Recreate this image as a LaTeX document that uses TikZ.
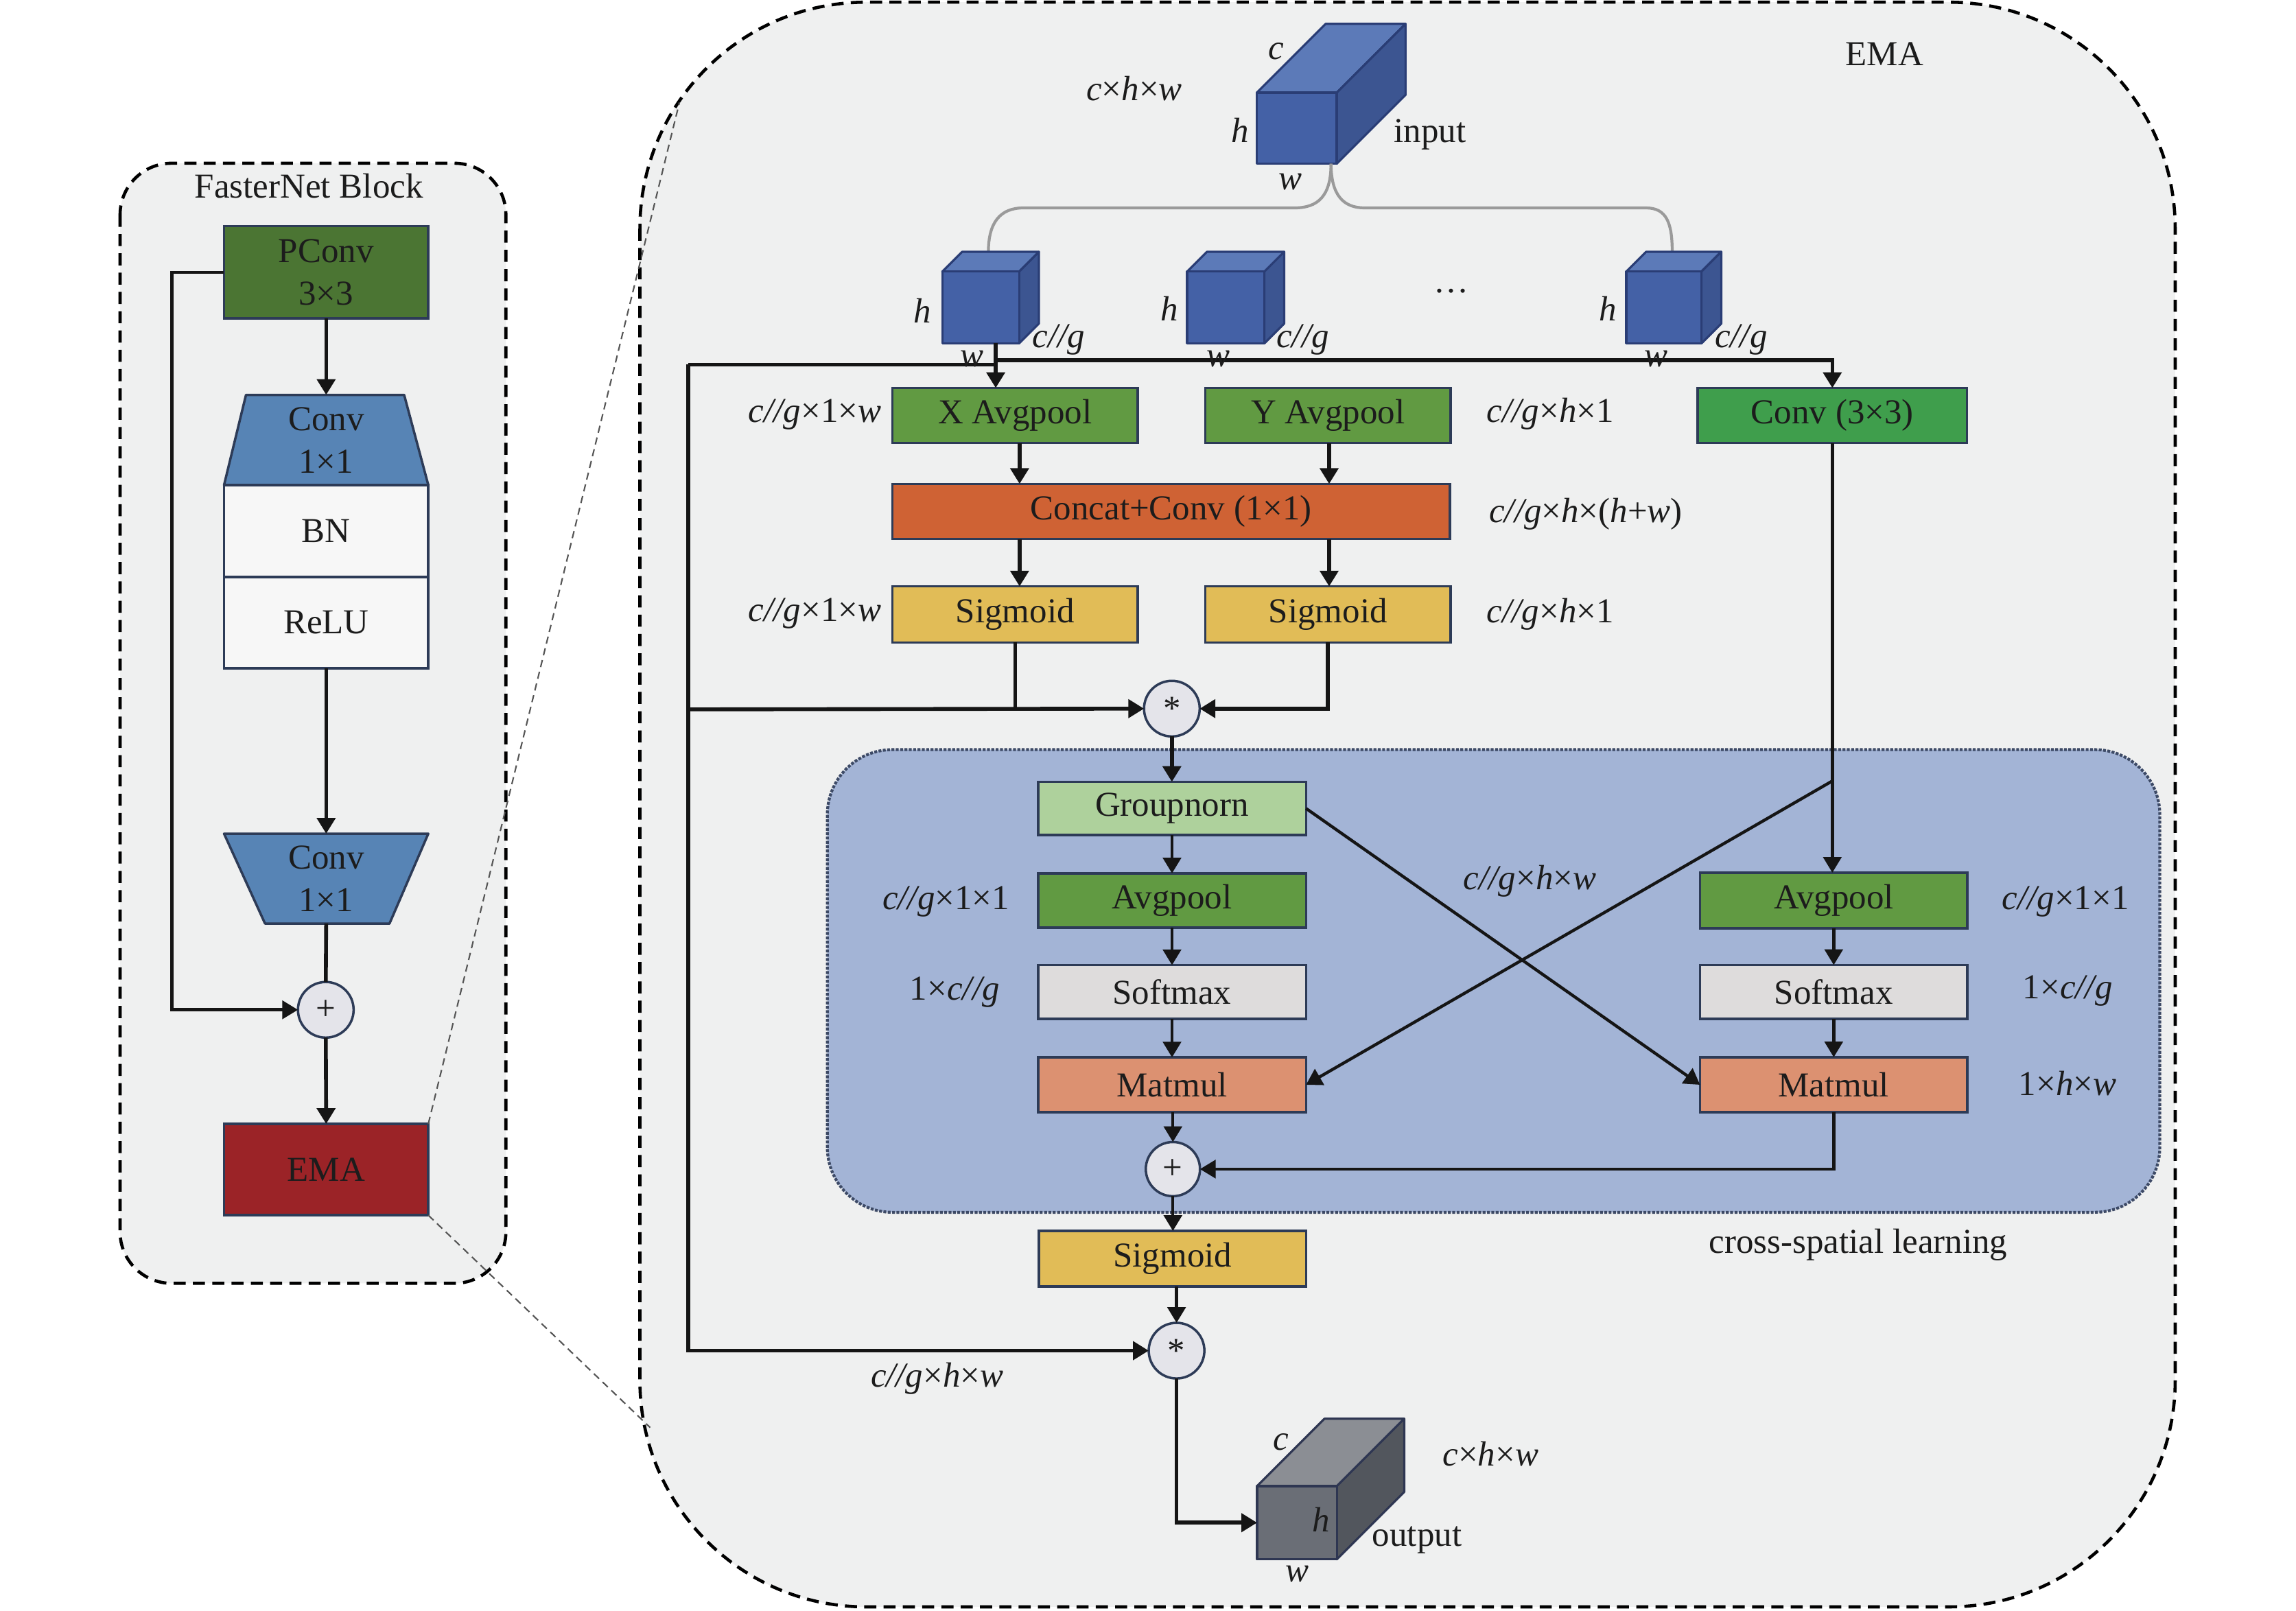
\documentclass[tikz,border=0pt]{standalone}
\usepackage{fontspec}
\setmainfont{Liberation Serif}
\usetikzlibrary{arrows.meta}

\definecolor{bg}{HTML}{EFF0F0}
\definecolor{txt}{HTML}{1C1C1C}
\definecolor{boxline}{HTML}{2D3B57}
\definecolor{pconvc}{HTML}{4B7533}
\definecolor{convblue}{HTML}{5784B5}
\definecolor{bnwhite}{HTML}{F7F7F7}
\definecolor{emared}{HTML}{9B2327}
\definecolor{opfill}{HTML}{E4E4EA}
\definecolor{xgreen}{HTML}{619A42}
\definecolor{cgreen}{HTML}{3F9E4C}
\definecolor{orangec}{HTML}{CF6234}
\definecolor{yellowc}{HTML}{E1BC57}
\definecolor{region}{HTML}{A3B4D6}
\definecolor{regionline}{HTML}{3D4A66}
\definecolor{gnorm}{HTML}{AED19C}
\definecolor{smgray}{HTML}{DEDCDC}
\definecolor{mmorange}{HTML}{DC9171}
\definecolor{lnc}{HTML}{151515}
\definecolor{cubeF}{HTML}{4461A6}
\definecolor{cubeT}{HTML}{5C7AB8}
\definecolor{cubeS}{HTML}{3C5591}
\definecolor{cubeE}{HTML}{2A3D75}
\definecolor{ocubeF}{HTML}{6A6E76}
\definecolor{ocubeT}{HTML}{8B8E94}
\definecolor{ocubeS}{HTML}{52565D}
\definecolor{ocubeE}{HTML}{2E3652}
\definecolor{branchc}{HTML}{9A9A9A}
\definecolor{zoomc}{HTML}{555555}

\def\U{0.021339cm}
\newcommand{\itx}[1]{\textit{#1}}
% x y w h d front top side edge
\newcommand{\drawcube}[9]{%
  \filldraw[fill=#7, draw=#9, line width=0.9pt, line join=round]
    (#1,#2) -- ({#1+#5},{#2-#5}) -- ({#1+#3+#5},{#2-#5}) -- ({#1+#3},#2) -- cycle;
  \filldraw[fill=#8, draw=#9, line width=0.9pt, line join=round]
    ({#1+#3},#2) -- ({#1+#3+#5},{#2-#5}) -- ({#1+#3+#5},{#2+#4-#5}) -- ({#1+#3},{#2+#4}) -- cycle;
  \filldraw[fill=#6, draw=#9, line width=0.9pt, line join=round]
    (#1,#2) rectangle ({#1+#3},{#2+#4});
}

\tikzset{
  every node/.append style={font=\fontsize{14.5}{17.6}\selectfont, text=txt},
  box/.style={rectangle, draw=boxline, line width=1pt, inner sep=0pt, outer sep=0pt, align=center},
  wS/.style={minimum width=167.5*\U},
  wL/.style={minimum width=183*\U},
  wF/.style={minimum width=139.5*\U},
  hB/.style={minimum height=37.5*\U},
  hF/.style={minimum height=62.5*\U},
  opc/.style={circle, draw=boxline, line width=1pt, fill=opfill, inner sep=0pt, outer sep=0pt, minimum size=38*\U},
  conn/.style={line width=1.6pt, draw=lnc},
  thinconn/.style={line width=1.25pt, draw=lnc},
  arr/.style={conn, -{Triangle[length=6.5pt,width=7.5pt]}},
  tarr/.style={thinconn, -{Triangle[length=6.5pt,width=7.5pt]}},
  container/.style={fill=bg, draw=black, line width=1.3pt, dash pattern=on 5pt off 3pt},
  zoomline/.style={draw=zoomc, line width=0.6pt, dash pattern=on 3pt off 2pt},
  branch/.style={draw=branchc, line width=1.2pt},
  dimlbl/.style={inner sep=0pt},
  cubebox/.style={inner sep=0pt, outer sep=0pt}
}

\begin{document}
\begin{tikzpicture}[x=0.021339cm, y=-0.021339cm]
\fill[white] (0,0) rectangle (1568,1100);
\useasboundingbox (0,0) rectangle (1568,1100);

% ---------- containers ----------
\draw[container, rounded corners=0.75cm] (82,111.5) rectangle (345.5,876.5);
\node (fntitle) at (211,127) {FasterNet Block};

\draw[container, rounded corners=3.3cm] (437,1.5) rectangle (1485.5,1097.5);
\node (ematitle) at (1287,37) {EMA};

% ---------- FasterNet block ----------
\node[box, wF, minimum height=63*\U, fill=pconvc] (pconv) at (222.75,186) {PConv\\3×3};
\filldraw[fill=convblue, draw=boxline, line width=1pt, line join=round]
  (168,269.7) -- (276,269.7) -- (292.5,331.3) -- (153,331.3) -- cycle;
\node[inner sep=0pt, outer sep=0pt, wF, minimum height=61.6*\U, align=center] (conv1) at (222.75,300.5) {Conv\\1×1};
\node[box, wF, hF, fill=bnwhite, minimum height=62.7*\U] (bn) at (222.75,362.65) {BN};
\node[box, wF, hF, fill=bnwhite] (relu) at (222.75,425.25) {ReLU};
\filldraw[fill=convblue, draw=boxline, line width=1pt, line join=round]
  (153,569.4) -- (292.5,569.4) -- (266,630.8) -- (181,630.8) -- cycle;
\node[inner sep=0pt, outer sep=0pt, wF, minimum height=61.4*\U, align=center] (conv2) at (222.75,600.1) {Conv\\1×1};
\node[opc] (addF) at (222.5,689.7) {+};
\node[box, wF, minimum height=62.4*\U, fill=emared] (ema) at (222.75,798.8) {EMA};
\coordinate (skipc) at (117.5,186);

\draw[arr] (pconv.south) -- (conv1.north);
\draw[arr] (relu.south) -- (conv2.north);
\draw[conn] (conv2.south) -- (addF.north);
\draw[arr] (addF.south) -- (ema.north);
\draw[arr, line width=1.3pt] (pconv.west) -- (skipc) |- (addF.west);

% ---------- zoom lines ----------
\coordinate (zt) at (464,70);
\coordinate (zb) at (444,975);
\draw[zoomline] (ema.north east) -- (zt);
\draw[zoomline] (ema.south east) -- (zb);

% ---------- cross-spatial region ----------
\draw[fill=region, draw=regionline, line width=1.2pt, dash pattern=on 1.2pt off 0.6pt, rounded corners=0.95cm]
  (565,512) rectangle (1475,828);
\node (csl) at (1269,850) {cross-spatial learning};

% ---------- input cube ----------
\drawcube{858.3}{63.3}{54.6}{48.5}{47}{cubeF}{cubeT}{cubeS}{cubeE}
\node[cubebox, minimum width=54.6*\U, minimum height=48.5*\U] (incube) at (885.6,87.55) {};
\node (inc) at (871.5,35) {\itx{c}};
\node (inh) at (847,89) {\itx{h}};
\node (inw) at (881,124) {\itx{w}};
\node (inlbl) at (976.6,92) {input};
\node (indim) at (774.6,60.3) {\itx{c}×\itx{h}×\itx{w}};

% branch lines
\coordinate (br) at (909,111.8);
\coordinate (c1top) at (675,172);
\coordinate (c3top) at (1142,172);
\draw[branch] (br) .. controls (909,134) and (900,142) .. (884,142) -- (699,142)
  .. controls (683,142) and (675,152) .. (c1top);
\draw[branch] (br) .. controls (909,134) and (918,142) .. (932,142) -- (1124,142)
  .. controls (1138,142) and (1142,152) .. (c3top);

% small cubes
\drawcube{643.5}{185.5}{52.5}{49}{13.5}{cubeF}{cubeT}{cubeS}{cubeE}
\drawcube{810.7}{185.5}{52.8}{49}{13.5}{cubeF}{cubeT}{cubeS}{cubeE}
\drawcube{1110.6}{185.5}{51.4}{49}{13.5}{cubeF}{cubeT}{cubeS}{cubeE}
\node[cubebox, minimum width=52.5*\U, minimum height=49*\U] (cube1) at (669.75,210) {};
\node[cubebox, minimum width=52.8*\U, minimum height=49*\U] (cube2) at (837.1,210) {};
\node[cubebox, minimum width=51.4*\U, minimum height=49*\U] (cube3) at (1136.3,210) {};
\node (c1h) at (629.7,212) {\itx{h}};
\node (c1g) at (723,232) {\itx{c//g}};
\node (c2h) at (798.5,211) {\itx{h}};
\node (c2g) at (889.7,232) {\itx{c//g}};
\node (c3h) at (1098,211) {\itx{h}};
\node (c3g) at (1189,232) {\itx{c//g}};
\node (dots) at (991,199) {…};

% ---------- boxes ----------
\node[box, wS, hB, fill=xgreen] (xavg) at (693.25,283.75) {X Avgpool};
\node[box, wS, hB, fill=xgreen] (yavg) at (906.9,283.75) {Y Avgpool};
\node[box, minimum width=183.9*\U, hB, fill=cgreen] (conv3) at (1251.35,283.75) {Conv (3×3)};
\node[box, minimum width=380.7*\U, minimum height=37.7*\U, fill=orangec] (concat) at (799.85,349.35) {Concat+Conv (1×1)};
\node[box, wS, minimum height=38.3*\U, fill=yellowc] (sigL) at (693.25,419.65) {Sigmoid};
\node[box, wS, minimum height=38.3*\U, fill=yellowc] (sigR) at (906.9,419.65) {Sigmoid};
\node[opc] (mul1) at (800.3,484) {\raisebox{-0.35ex}{*}};

\node[box, wL, minimum height=36.3*\U, fill=gnorm] (gn) at (800.4,552.15) {Groupnorn};
\node[box, wL, minimum height=37*\U, fill=xgreen] (avgL) at (800.4,615) {Avgpool};
\node[box, wL, minimum height=36.6*\U, fill=smgray] (smL) at (800.4,677.5) {Softmax};
\node[box, wL, minimum height=37.4*\U, fill=mmorange] (mmL) at (800.4,740.9) {Matmul};
\node[opc, minimum size=37*\U] (add) at (801,798.5) {+};

\node[box, minimum width=182.6*\U, minimum height=37.9*\U, fill=xgreen] (avgR) at (1252.3,615) {Avgpool};
\node[box, minimum width=182.6*\U, minimum height=36.8*\U, fill=smgray] (smR) at (1252.3,677.5) {Softmax};
\node[box, minimum width=182.6*\U, minimum height=37.6*\U, fill=mmorange] (mmR) at (1252.3,740.9) {Matmul};

\node[box, minimum width=182.4*\U, minimum height=37.9*\U, fill=yellowc] (sigB) at (800.8,859.65) {Sigmoid};
\node[opc] (mul2) at (803.5,922.5) {\raisebox{-0.35ex}{*}};

% output cube
\drawcube{858.5}{1015}{54.5}{50}{46}{ocubeF}{ocubeT}{ocubeS}{ocubeE}
\node[cubebox, minimum width=54.5*\U, minimum height=50*\U] (outcube) at (885.75,1040) {};
\node (oc) at (875,985) {\itx{c}};
\node (oh) at (902,1038) {\itx{h}};
\node (ow) at (886,1075) {\itx{w}};
\node (olbl) at (967.7,1052) {output};
\node (odim) at (1018,993) {\itx{c}×\itx{h}×\itx{w}};

% ---------- dimension labels ----------
\node[dimlbl] (d1) at (556.5,283) {\itx{c//g}×1×\itx{w}};
\node[dimlbl] (d2) at (1058.8,282.7) {\itx{c//g}×\itx{h}×1};
\node[dimlbl] (d3) at (1083,351) {\itx{c//g}×\itx{h}×(\itx{h}+\itx{w})};
\node[dimlbl] (d4) at (556.5,419.2) {\itx{c//g}×1×\itx{w}};
\node[dimlbl] (d5) at (1058.8,419.7) {\itx{c//g}×\itx{h}×1};
\node[dimlbl] (d6) at (646,616) {\itx{c//g}×1×1};
\node[dimlbl] (d7) at (652,677.6) {1×\itx{c//g}};
\node[dimlbl] (d8) at (1044.8,601.6) {\itx{c//g}×\itx{h}×\itx{w}};
\node[dimlbl] (d9) at (1410.6,615.8) {\itx{c//g}×1×1};
\node[dimlbl] (d10) at (1412,676.7) {1×\itx{c//g}};
\node[dimlbl] (d11) at (1412,740) {1×\itx{h}×\itx{w}};
\node[dimlbl] (d12) at (640,941.5) {\itx{c//g}×\itx{h}×\itx{w}};

% ---------- connectors ----------
\coordinate (c1b) at (680,234.5);
\coordinate (jT) at (680,246);
\coordinate (jT2) at (680,249);
\coordinate (jL) at (470,249);
\coordinate (jM) at (470,484.5);
\coordinate (jX) at (1251.35,533.4);

\draw[arr] (c1b) -- (xavg.north -| c1b);
\draw[arr] (jT) -| (conv3.north);
\draw[conn] (jT2) -- (jL);
\draw[arr] (jL) |- (mul2.west);
\draw[arr] (jM) -- (mul1.west);
\draw[arr] (xavg.south -| 696.3,0) -- (concat.north -| 696.3,0);
\draw[arr] (yavg.south -| 907.7,0) -- (concat.north -| 907.7,0);
\draw[arr] (concat.south -| 696.3,0) -- (sigL.north -| 696.3,0);
\draw[arr] (concat.south -| 907.7,0) -- (sigR.north -| 907.7,0);
\draw[conn] (sigL.south) -- (sigL.south |- jM);
\draw[arr] (sigR.south) |- (mul1.east);
\draw[arr] (mul1.south) -- (gn.north -| mul1.south);

\draw[tarr] (gn.south) -- (avgL.north);
\draw[tarr] (avgL.south) -- (smL.north);
\draw[tarr] (smL.south) -- (mmL.north);
\draw[tarr] (mmL.south -| add.north) -- (add.north);
\draw[tarr] (conv3.south) -- (avgR.north -| conv3.south);
\draw[tarr] (jX) -- (mmL.east);
\draw[tarr] (gn.east) -- (mmR.west);
\draw[tarr] (avgR.south) -- (smR.north);
\draw[tarr] (smR.south) -- (mmR.north);
\draw[tarr] (mmR.south) |- (add.east);
\draw[tarr] (add.south) -- (sigB.north -| add.south);
\draw[tarr] (sigB.south -| mul2.north) -- (mul2.north);
\draw[arr] (mul2.south) |- (outcube.west);

% w labels of the small cubes (drawn over the line, as in the reference)
\node (c1w) at (663.6,245) {\itx{w}};
\node (c2w) at (832,245) {\itx{w}};
\node (c3w) at (1131,245) {\itx{w}};

\end{tikzpicture}
\end{document}
